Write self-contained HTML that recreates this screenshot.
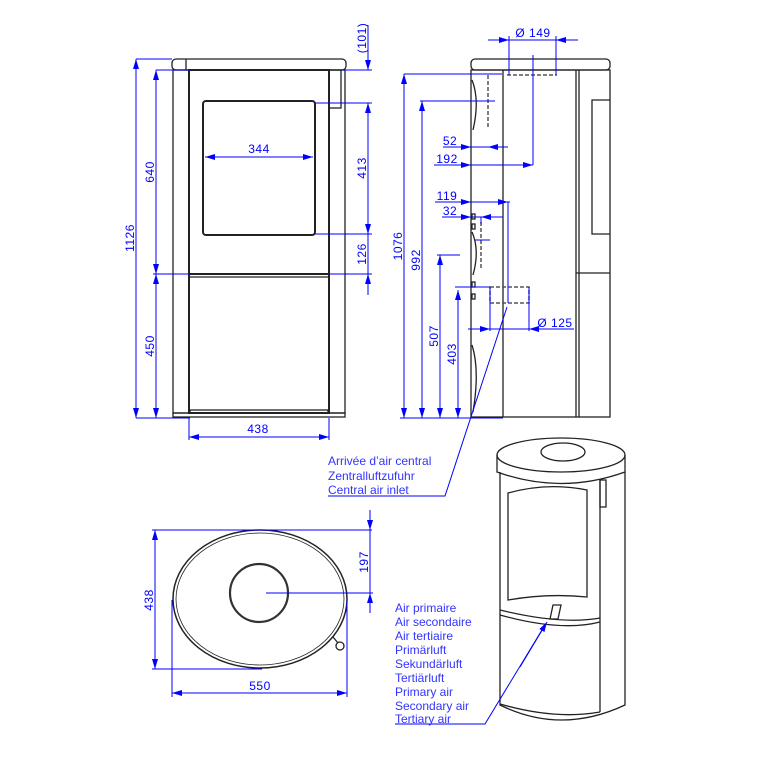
<!DOCTYPE html>
<html><head><meta charset="utf-8"><style>body{margin:0;background:#fff}svg{display:block}</style></head><body>
<svg width="762" height="762" viewBox="0 0 762 762" xmlns="http://www.w3.org/2000/svg" font-family="Liberation Sans, sans-serif">
<defs>
<marker id="a" viewBox="0 0 10 6" refX="10" refY="3" markerWidth="10" markerHeight="6" orient="auto-start-reverse" markerUnits="userSpaceOnUse"><path d="M0,0L10,3L0,6z" fill="#00f"/></marker>
</defs>
<g fill="none" stroke="#222" stroke-width="1.3">
<!-- front view -->
<rect x="172" y="59" width="174" height="11" rx="4"/>
<line x1="186" y1="59" x2="186" y2="70"/>
<rect x="173" y="70" width="172" height="343"/>
<rect x="189" y="70" width="140" height="343" stroke-width="2"/>
<rect x="203" y="101" width="112" height="134" rx="3" stroke-width="2"/>
<line x1="189" y1="274" x2="329" y2="274" stroke-width="2"/>
<line x1="189" y1="277" x2="329" y2="277"/>
<rect x="329" y="70" width="12" height="38"/>
<rect x="173" y="413" width="172" height="4"/>
<rect x="190" y="410" width="138" height="3"/>
<!-- side view -->
<rect x="471" y="59" width="139" height="11" rx="4"/>
<rect x="471" y="70" width="139" height="347"/>
<line x1="503" y1="70" x2="503" y2="417"/>
<line x1="576" y1="70" x2="576" y2="417"/>
<line x1="579" y1="70" x2="579" y2="417"/>
<path d="M610,100 H592 V234 H610"/>
<line x1="576" y1="273" x2="610" y2="273"/>
<path d="M472,80 Q480,100 473,130"/>
<path d="M472,232 Q480,250 473,275"/>
<path d="M472,345 Q480,370 473,412"/>
<rect x="472" y="214" width="3" height="5"/><rect x="472" y="224" width="3" height="5"/>
<rect x="472" y="282" width="3" height="5"/><rect x="472" y="294" width="3" height="5"/>
<g stroke-dasharray="4,2" stroke-width="1.5" stroke="#555">
<path d="M507,75 H557"/><line x1="488" y1="75" x2="488" y2="128"/>
<line x1="481" y1="222" x2="481" y2="270"/>
<rect x="490" y="287" width="39" height="16"/>
</g>
<!-- top view -->
<ellipse cx="260" cy="599" rx="87" ry="69" stroke-width="1.5"/>
<ellipse cx="260" cy="599" rx="84" ry="66" stroke-width="0.8"/>
<circle cx="259" cy="593" r="29" stroke-width="2.2" stroke="#333"/>
<line x1="333" y1="637" x2="338" y2="643"/>
<circle cx="340" cy="646" r="4"/>
<!-- iso view -->
<ellipse cx="561" cy="455" rx="64" ry="17"/>
<path d="M497,455 V472 Q561,495 625,472 V455"/>
<ellipse cx="563" cy="452" rx="22" ry="9"/>
<path d="M500,472 V705 Q561,735 625,705 V472"/>
<path d="M508,493 Q548,482 587,490 V597 Q548,593 508,600 Z"/>
<path d="M500,610 Q561,625 600,618"/>
<path d="M500,615 Q561,632 600,622"/>
<line x1="600" y1="480" x2="600" y2="712"/>
<rect x="600" y="480" width="6" height="27"/>
<path d="M500,704 Q555,720 600,712"/>
<path d="M553,605 h8 l-3,14 h-8 z"/>
</g>
<g stroke="#00f" stroke-width="1" fill="none">
<!-- front dims -->
<line x1="136" y1="59" x2="172" y2="59"/><line x1="136" y1="418" x2="190" y2="418"/>
<line x1="156" y1="70" x2="190" y2="70"/><line x1="153" y1="274" x2="190" y2="274"/>
<line x1="136" y1="59" x2="136" y2="418" marker-start="url(#a)" marker-end="url(#a)"/>
<line x1="156" y1="70" x2="156" y2="274" marker-start="url(#a)" marker-end="url(#a)"/>
<line x1="156" y1="274" x2="156" y2="418" marker-start="url(#a)" marker-end="url(#a)"/>
<line x1="205" y1="157" x2="313" y2="157" marker-start="url(#a)" marker-end="url(#a)"/>
<line x1="189" y1="418" x2="189" y2="440"/><line x1="329" y1="418" x2="329" y2="440"/>
<line x1="189" y1="437" x2="329" y2="437" marker-start="url(#a)" marker-end="url(#a)"/>
<line x1="341" y1="70" x2="372" y2="70"/><line x1="315" y1="103" x2="372" y2="103"/>
<line x1="315" y1="234" x2="372" y2="234"/><line x1="329" y1="274" x2="372" y2="274"/>
<line x1="368" y1="25" x2="368" y2="70" marker-end="url(#a)"/>
<line x1="368" y1="103" x2="368" y2="234" marker-start="url(#a)" marker-end="url(#a)"/>
<line x1="368" y1="274" x2="368" y2="295" marker-start="url(#a)"/>
<line x1="368" y1="234" x2="368" y2="274"/>
<!-- side dims -->
<line x1="404" y1="74" x2="502" y2="74"/><line x1="420" y1="101" x2="495" y2="101"/>
<line x1="437" y1="255" x2="460" y2="255"/><line x1="455" y1="287" x2="490" y2="287"/>
<line x1="400" y1="418" x2="503" y2="418"/>
<line x1="404" y1="74" x2="404" y2="418" marker-start="url(#a)" marker-end="url(#a)"/>
<line x1="422" y1="101" x2="422" y2="418" marker-start="url(#a)" marker-end="url(#a)"/>
<line x1="440" y1="255" x2="440" y2="418" marker-start="url(#a)" marker-end="url(#a)"/>
<line x1="458" y1="290" x2="458" y2="418" marker-start="url(#a)" marker-end="url(#a)"/>
<line x1="443" y1="147" x2="508" y2="147"/>
<line x1="458" y1="147" x2="471" y2="147" marker-end="url(#a)"/><line x1="503" y1="147" x2="488" y2="147" marker-end="url(#a)"/>
<line x1="434" y1="165" x2="533" y2="165"/>
<line x1="458" y1="165" x2="471" y2="165" marker-end="url(#a)"/><line x1="518" y1="165" x2="533" y2="165" marker-end="url(#a)"/>
<line x1="533" y1="55" x2="533" y2="165"/>
<line x1="435" y1="202" x2="510" y2="202"/>
<line x1="458" y1="202" x2="471" y2="202" marker-end="url(#a)"/><line x1="495" y1="202" x2="508" y2="202" marker-end="url(#a)"/>
<line x1="508" y1="202" x2="508" y2="303"/>
<line x1="442" y1="217" x2="503" y2="217"/>
<line x1="458" y1="217" x2="471" y2="217" marker-end="url(#a)"/><line x1="493" y1="217" x2="481" y2="217" marker-end="url(#a)"/>
<line x1="481" y1="217" x2="481" y2="224"/>
<line x1="488" y1="40" x2="578" y2="40"/>
<line x1="492" y1="40" x2="509" y2="40" marker-end="url(#a)"/><line x1="575" y1="40" x2="556" y2="40" marker-end="url(#a)"/>
<line x1="509" y1="36" x2="509" y2="75"/><line x1="556" y1="36" x2="556" y2="75"/>
<line x1="468" y1="329" x2="574" y2="329"/>
<line x1="475" y1="329" x2="490" y2="329" marker-end="url(#a)"/><line x1="545" y1="329" x2="529" y2="329" marker-end="url(#a)"/>
<line x1="490" y1="287" x2="490" y2="331"/><line x1="529" y1="287" x2="529" y2="331"/>
<line x1="475" y1="240" x2="490" y2="240"/>
<polyline points="507,307 445,496 328,496"/>
<!-- top view dims -->
<line x1="152" y1="530" x2="372" y2="530"/><line x1="152" y1="669" x2="262" y2="669"/>
<line x1="155" y1="530" x2="155" y2="669" marker-start="url(#a)" marker-end="url(#a)"/>
<line x1="172" y1="600" x2="172" y2="697"/><line x1="347" y1="600" x2="347" y2="697"/>
<line x1="172" y1="693" x2="347" y2="693" marker-start="url(#a)" marker-end="url(#a)"/>
<line x1="266" y1="593" x2="373" y2="593"/>
<line x1="370" y1="510" x2="370" y2="530" marker-end="url(#a)"/>
<line x1="370" y1="613" x2="370" y2="593" marker-end="url(#a)"/>
<line x1="370" y1="530" x2="370" y2="593"/>
<!-- iso leader -->
<polyline points="395,724 485,724 545,625" />
<line x1="520" y1="667" x2="547" y2="622" marker-end="url(#a)"/>
</g>
<g fill="#00f" font-size="12" text-anchor="middle" letter-spacing="0.5">
<text x="259" y="153">344</text>
<text x="258" y="433">438</text>
<text transform="translate(134,238) rotate(-90)">1126</text>
<text transform="translate(154,172) rotate(-90)">640</text>
<text transform="translate(154,346) rotate(-90)">450</text>
<text transform="translate(366,38) rotate(-90)">(101)</text>
<text transform="translate(366,168) rotate(-90)">413</text>
<text transform="translate(366,254) rotate(-90)">126</text>
<text transform="translate(402,246) rotate(-90)">1076</text>
<text transform="translate(420,260) rotate(-90)">992</text>
<text transform="translate(438,336) rotate(-90)">507</text>
<text transform="translate(456,354) rotate(-90)">403</text>
<text x="450" y="145">52</text>
<text x="447" y="163">192</text>
<text x="447" y="200">119</text>
<text x="450" y="215">32</text>
<text x="533" y="37">Ø 149</text>
<text x="555" y="327">Ø 125</text>
<text transform="translate(153,600) rotate(-90)">438</text>
<text transform="translate(368,562) rotate(-90)">197</text>
<text x="260" y="690">550</text>
</g>
<g fill="#33f" font-size="12">
<text x="328" y="465">Arrivée d’air central</text>
<text x="328" y="480">Zentralluftzufuhr</text>
<text x="328" y="494">Central air inlet</text>
<text x="395" y="612">Air primaire</text>
<text x="395" y="626">Air secondaire</text>
<text x="395" y="640">Air tertiaire</text>
<text x="395" y="654">Primärluft</text>
<text x="395" y="668">Sekundärluft</text>
<text x="395" y="682">Tertiärluft</text>
<text x="395" y="696">Primary air</text>
<text x="395" y="710">Secondary air</text>
<text x="395" y="723">Tertiary air</text>
</g>
</svg>
</body></html>
